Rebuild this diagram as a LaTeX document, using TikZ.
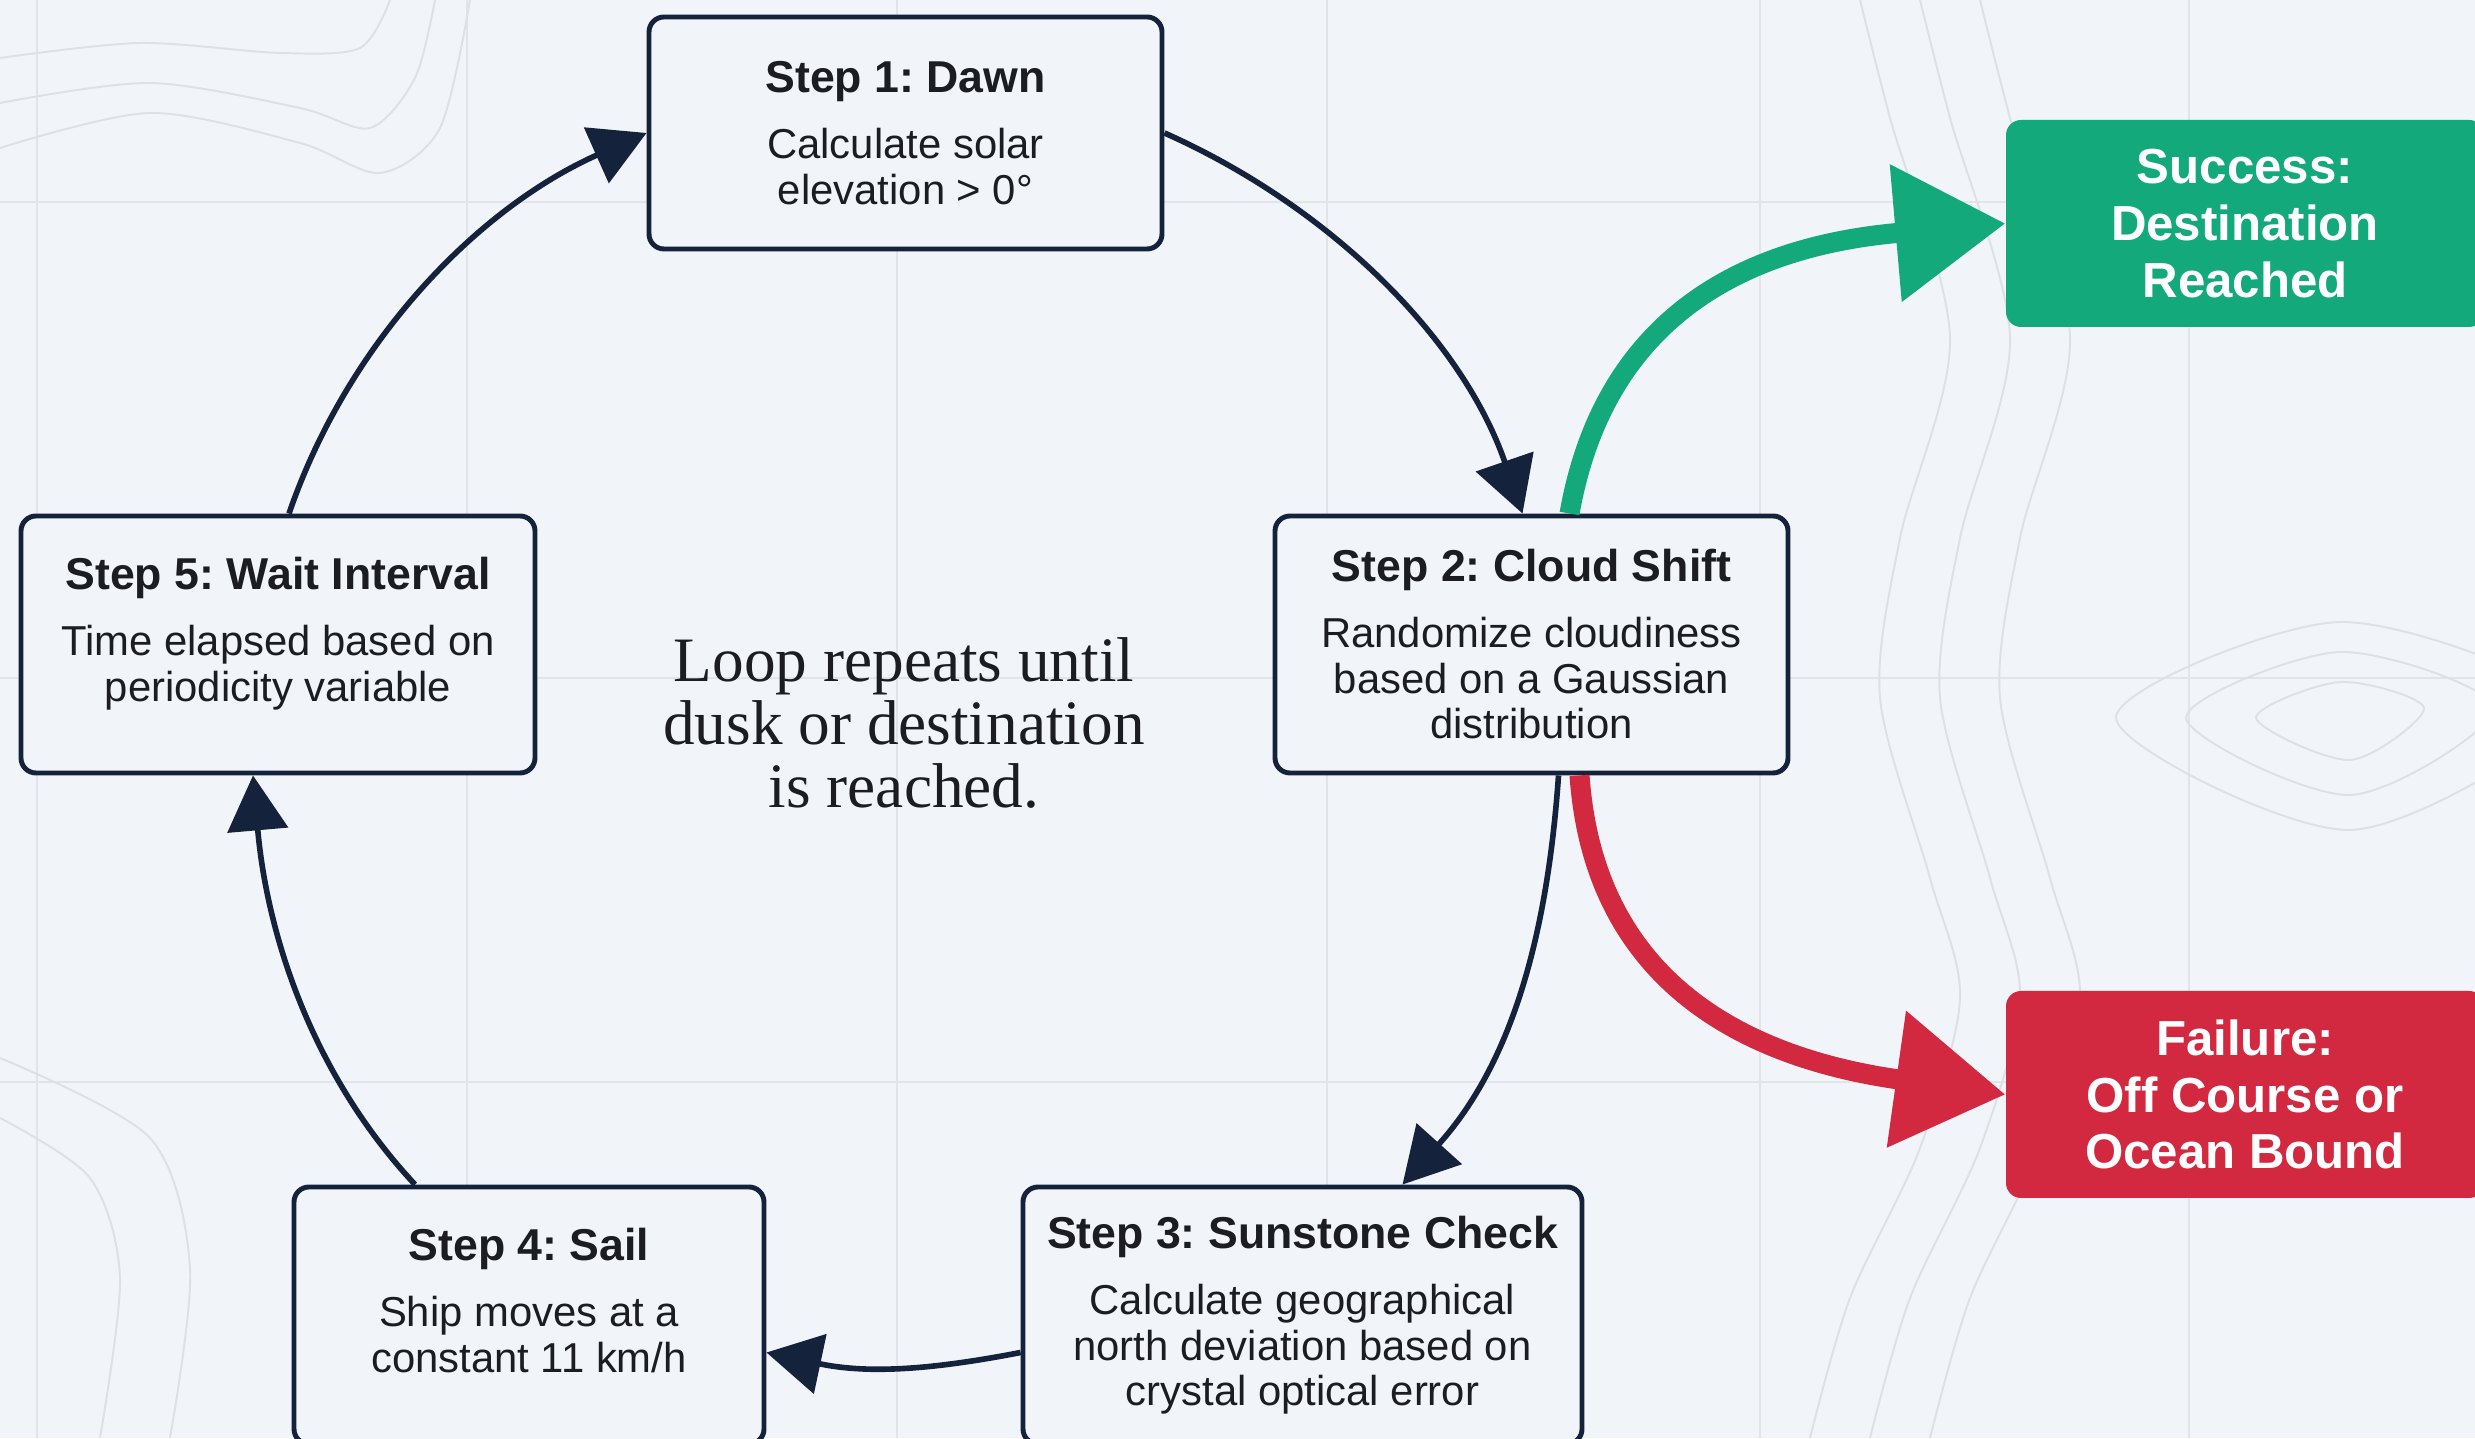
\documentclass[tikz,border=0pt]{standalone}
\usepackage{fontspec}
\setmainfont{Liberation Sans}
\newfontfamily\loopfont{Liberation Serif}
\usetikzlibrary{arrows.meta}
\frenchspacing

\definecolor{paper}{HTML}{F1F4F8}
\definecolor{navy}{HTML}{15223B}
\definecolor{okgreen}{HTML}{13A97B}
\definecolor{failred}{HTML}{D22840}
\definecolor{gridgray}{HTML}{E1E5EA}
\definecolor{topo}{HTML}{DDE1E6}
\definecolor{ink}{HTML}{1B1D21}

\newcommand{\steptitle}[1]{{\fontsize{12.7}{13}\selectfont\bfseries #1}\\[0.2cm]}
\newcommand{\padline}{\\[-0.157cm]\mbox{}}

\begin{document}
\begin{tikzpicture}[
    stepbox/.style={draw=navy, line width=1.4pt, rounded corners=0.15cm, fill=paper,
                    align=center, text=ink, inner sep=0pt,
                    font=\fontsize{11.9}{13}\selectfont, minimum height=2.57cm},
    endbox/.style={rounded corners=0.15cm, text=white, align=center, inner sep=0pt,
                   font=\fontsize{14}{16.1}\selectfont\bfseries,
                   minimum width=4.78cm, minimum height=2.07cm},
    loop/.style={draw=navy, line width=1.6pt, -{Triangle[length=0.55cm,width=0.6cm]}},
    exit/.style={line width=0.2cm, -{Triangle[length=1.1cm,width=1.33cm]}}
  ]
  \useasboundingbox[fill=paper] (0,0) rectangle (24.75,14.38);

  % map grid and contour lines
  \foreach \x in {0.37,4.67,8.97,13.27,17.6,21.89}
    \draw[gridgray, line width=0.8pt] (\x,0) -- (\x,14.38);
  \foreach \y in {12.36,7.6,3.56}
    \draw[gridgray, line width=0.8pt] (0,\y) -- (24.75,\y);
  \begin{scope}[topo, line width=0.55pt]
    \draw plot[smooth] coordinates {(0,12.9) (1.5,13.25) (3.0,12.95) (3.8,12.65) (4.4,13.1) (4.7,14.38)};
    \draw plot[smooth] coordinates {(0,13.35) (1.5,13.55) (3.0,13.3) (3.7,13.1) (4.15,13.6) (4.35,14.38)};
    \draw plot[smooth] coordinates {(0,13.8) (1.4,13.95) (2.8,13.85) (3.6,13.9) (3.9,14.38)};
    \foreach \dx in {0,0.6,1.2} {
      \draw plot[smooth] coordinates {(18.6+\dx,14.38) (18.9+\dx,13.2) (19.5+\dx,11.0) (19.0+\dx,9.0)
        (18.8+\dx,7.4) (19.3+\dx,5.6) (19.6+\dx,4.4) (19.2+\dx,2.9) (18.5+\dx,1.4) (18.1+\dx,0)};
    }
    \foreach \r in {0.6,1.1,1.6} {
      \draw plot[smooth cycle] coordinates {(23.4-1.4*\r,7.2) (23.4,7.2+0.6*\r) (23.4+1.4*\r,7.3)
        (23.5,7.2-0.7*\r)};
    }
    \draw plot[smooth] coordinates {(0,3.2) (0.9,2.6) (1.2,1.6) (1.0,0)};
    \draw plot[smooth] coordinates {(0,3.8) (1.5,3.0) (1.9,1.7) (1.7,0)};
  \end{scope}

  % the loop
  \node[stepbox, minimum width=5.13cm, minimum height=2.32cm] (s1) at (9.055,13.05)
    {\steptitle{Step 1: Dawn}Calculate solar\\elevation > 0°};
  \node[stepbox, minimum width=5.13cm] (s2) at (15.315,7.935)
    {\steptitle{Step 2: Cloud Shift}Randomize cloudiness\\based on a Gaussian\\distribution};
  \node[stepbox, minimum width=5.59cm] (s3) at (13.025,1.225)
    {\steptitle{Step 3: Sunstone Check}Calculate geographical\\north deviation based on\\crystal optical error};
  \node[stepbox, minimum width=4.7cm] (s4) at (5.29,1.225)
    {\steptitle{Step 4: Sail}Ship moves at a\\constant 11 km/h\padline};
  \node[stepbox, minimum width=5.14cm] (s5) at (2.78,7.935)
    {\steptitle{Step 5: Wait Interval}Time elapsed based on\\periodicity variable\padline};

  \node[font=\loopfont\fontsize{18}{17.9}\selectfont, align=center, text=ink] (note) at (9.04,7.15)
    {Loop repeats until\\dusk or destination\\is reached.};

  \node[endbox, fill=okgreen] (succ) at (22.45,12.145) {Success:\\Destination\\Reached};
  \node[endbox, fill=failred] (fail) at (22.45,3.435) {Failure:\\Off Course or\\Ocean Bound};

  \draw[loop] ([xshift=0.11cm]s5.north) to[out=71,in=204,looseness=0.9] (s1.west);
  \draw[loop] (s1.east) to[out=336,in=109,looseness=0.9] ([xshift=-0.09cm]s2.north);
  \draw[loop] ([xshift=0.27cm]s2.south) to[out=266,in=48,looseness=0.95] ([xshift=1cm]s3.north);
  \draw[loop] ([yshift=-0.37cm]s3.west) to[out=191,in=348] ([yshift=-0.37cm]s4.east);
  \draw[loop] ([xshift=-1.14cm]s4.north) to[out=133,in=275,looseness=0.9] ([xshift=-0.25cm]s5.south);

  \draw[exit, okgreen] ([xshift=0.38cm]s2.north) to[out=80,in=185,looseness=1.1] (succ.west);
  \draw[exit, failred] ([xshift=0.48cm]s2.south) to[out=274,in=172,looseness=1.1] (fail.west);
\end{tikzpicture}
\end{document}
